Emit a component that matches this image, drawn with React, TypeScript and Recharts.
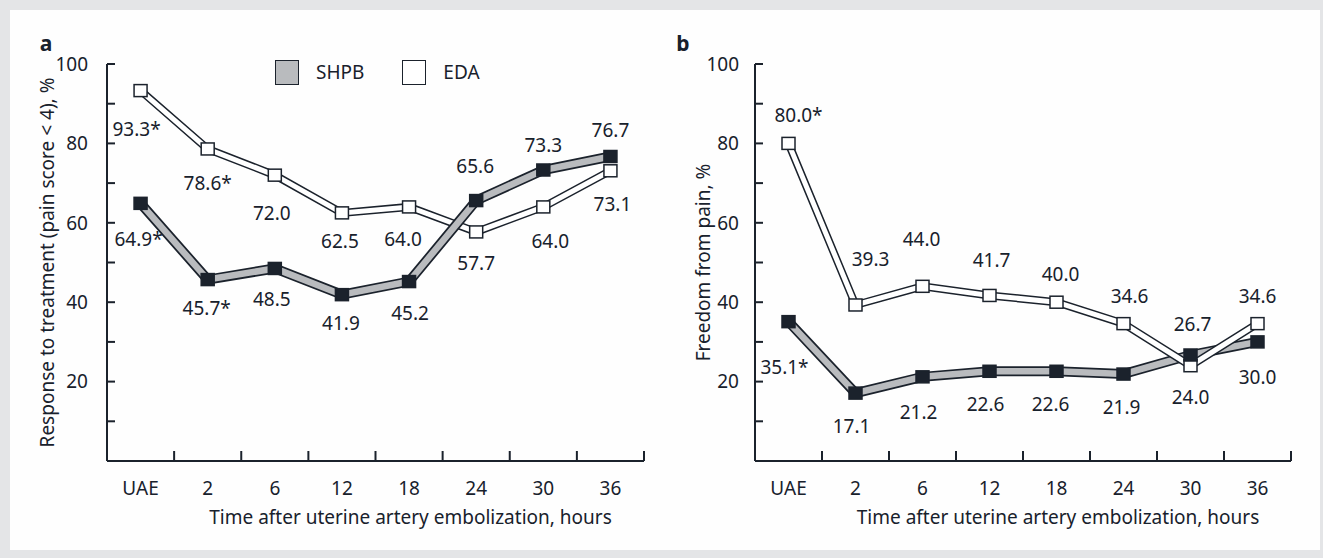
import React from 'react';
import { LineChart, Line, XAxis, YAxis, Legend, LabelList } from 'recharts';

// x categories: time after uterine artery embolization, hours
const categories = ['UAE', '2', '6', '12', '18', '24', '30', '36'];
const seriesOrder = ['SHPB', 'EDA'];

// panel a: response to treatment (pain score < 4), %
const responseShpb = [64.9, 45.7, 48.5, 41.9, 45.2, 65.6, 73.3, 76.7];
const responseEda = [93.3, 78.6, 72.0, 62.5, 64.0, 57.7, 64.0, 73.1];
const responseShpbSig = [true, true, false, false, false, false, false, false];
const responseEdaSig = [true, true, false, false, false, false, false, false];

// panel b: freedom from pain, %
const freedomShpb = [35.1, 17.1, 21.2, 22.6, 22.6, 21.9, 26.7, 30.0];
const freedomEda = [80.0, 39.3, 44.0, 41.7, 40.0, 34.6, 24.0, 34.6];
const freedomShpbSig = [true, false, false, false, false, false, false, false];
const freedomEdaSig = [true, false, false, false, false, false, false, false];

const yTicks = [10, 20, 30, 40, 50, 60, 70, 80, 90, 100];

// label placement (dx, dy from the point), kept apart from the values
const offResponseShpb = [[-2, 36], [-1, 28], [-3, 31], [-1, 28], [1, 31], [-1, -35], [0, -25], [0, -27]];
const offResponseEda = [[-4, 38], [0, 34], [-3, 38], [-2, 28], [-6, 32], [0, 31], [7, 34], [2, 33]];
const offFreedomShpb = [[-4, 45], [-4, 33], [-4, 35], [-4, 33], [-6, 33], [-2, 33], [2, -31], [0, 35]];
const offFreedomEda = [[10, -28], [15, -46], [-1, -47], [2, -35], [4, -28], [6, -28], [0, 31], [0, -28]];

const INK = '#1b222c';
const TEXT = '#18212c';
const GRAY = '#b9bbbe';
const FONT = '"Noto Sans", sans-serif';
const FS = 19;

const boundaryTicks = categories.map((_, i) => i + 1);
const centerTicks = categories.map((_, i) => i + 0.5);

const makeLabel = (sig: boolean[], off: number[][]) => (p: any) => {
  const i = p.index;
  return (
    <text key={i} x={p.x + off[i][0]} y={p.y + off[i][1]} textAnchor="middle" dominantBaseline="central"
      fill={TEXT} fontSize={FS} fontFamily={FONT}>
      {Number(p.value).toFixed(1)}{sig[i] ? '*' : ''}
    </text>
  );
};

const squareDot = (fill: string) => (p: any) => (
  <rect key={p.index} x={p.cx - 6.5} y={p.cy - 6} width={13} height={12} fill={fill} stroke={INK} strokeWidth={1.5} />
);

const LegendBox = (props: any) => {
  const items = (props.payload || [])
    .filter((e: any) => e.type !== 'none')
    .sort((a: any, b: any) => seriesOrder.indexOf(a.value) - seriesOrder.indexOf(b.value));
  return (
    <div style={{ display: 'flex', alignItems: 'center', fontFamily: FONT, fontSize: FS, color: TEXT }}>
      {items.map((e: any) => (
        <div key={e.value} style={{ display: 'flex', alignItems: 'center', marginRight: 38 }}>
          <span style={{ display: 'inline-block', width: 22, height: 23, background: e.color, border: `1.5px solid ${INK}`, marginRight: 17 }} />
          <span>{e.value}</span>
        </div>
      ))}
    </div>
  );
};

interface PanelProps {
  shpb: number[];
  eda: number[];
  shpbSig: boolean[];
  edaSig: boolean[];
  shpbOff: number[][];
  edaOff: number[][];
  yTitle: string;
  yTitleDx: number;
  tickMargin: number;
  width: number;
  left: number;
  right: number;
  edaOnTop: boolean;
  legend: boolean;
}

const Panel = ({ shpb, eda, shpbSig, edaSig, shpbOff, edaOff, yTitle, yTitleDx, tickMargin, width, left, right, edaOnTop, legend }: PanelProps) => {
  const data = categories.map((c, i) => ({ pos: i + 0.5, cat: c, shpb: shpb[i], eda: eda[i] }));

  const shpbTube = [
    <Line key="so" type="linear" dataKey="shpb" stroke={INK} strokeWidth={10} dot={false} activeDot={false} legendType="none" isAnimationActive={false} />,
    <Line key="si" type="linear" dataKey="shpb" name="SHPB" stroke={GRAY} strokeWidth={6.5} dot={false} activeDot={false} isAnimationActive={false} />,
  ];
  const edaTube = [
    <Line key="eo" type="linear" dataKey="eda" stroke={INK} strokeWidth={8} dot={false} activeDot={false} legendType="none" isAnimationActive={false} />,
    <Line key="ei" type="linear" dataKey="eda" name="EDA" stroke="#ffffff" strokeWidth={5} dot={false} activeDot={false} isAnimationActive={false} />,
  ];

  return (
    <LineChart width={width} height={558} data={data} margin={{ top: 64, right, left, bottom: 25 }}>
      <XAxis xAxisId={0} type="number" dataKey="pos" domain={[0, 8]} ticks={boundaryTicks} interval={0}
        height={2} tickSize={-10} tickFormatter={() => ''} stroke={INK} strokeWidth={2}
        axisLine={{ stroke: INK, strokeWidth: 2 }} tickLine={{ stroke: INK, strokeWidth: 2 }} />
      <XAxis xAxisId="lbl" type="number" dataKey="pos" domain={[0, 8]} ticks={centerTicks} interval={0}
        height={70} tickSize={0} tickMargin={19} axisLine={false} tickLine={false}
        tickFormatter={(v: number) => categories[Math.floor(v)]}
        tick={{ fill: TEXT, fontSize: FS, fontFamily: FONT }}
        label={{ value: 'Time after uterine artery embolization, hours', position: 'insideBottom', offset: 9, dx: 35, fill: TEXT, fontSize: FS, fontFamily: FONT }} />
      <YAxis type="number" domain={[0, 100]} ticks={yTicks} interval={0} width={80}
        tickSize={-8} tickMargin={tickMargin} tickFormatter={(v: number) => (v % 20 === 0 ? String(v) : '')}
        axisLine={{ stroke: INK, strokeWidth: 2 }} tickLine={{ stroke: INK, strokeWidth: 2 }}
        tick={{ fill: TEXT, fontSize: FS, fontFamily: FONT }}
        label={{ value: yTitle, angle: -90, position: 'center', dx: yTitleDx, fill: TEXT, fontSize: FS, fontFamily: FONT }} />
      {edaOnTop ? shpbTube : edaTube}
      {edaOnTop ? edaTube : shpbTube}
      <Line dataKey="eda" stroke="none" legendType="none" dot={squareDot('#ffffff')} activeDot={false} isAnimationActive={false}>
        <LabelList dataKey="eda" content={makeLabel(edaSig, edaOff)} />
      </Line>
      <Line dataKey="shpb" stroke="none" legendType="none" dot={squareDot(INK)} activeDot={false} isAnimationActive={false}>
        <LabelList dataKey="shpb" content={makeLabel(shpbSig, shpbOff)} />
      </Line>
      {legend && (
        <Legend layout="horizontal" verticalAlign="middle" align="center" content={<LegendBox />}
          wrapperStyle={{ left: 275, top: 59, width: 260 }} />
      )}
    </LineChart>
  );
};

export default function App() {
  return (
    <div style={{ position: 'relative', width: 1323, height: 558, background: '#e4e5e7', fontFamily: FONT, overflow: 'hidden' }}>
      <style>{'body{margin:0}'}</style>
      <div style={{ position: 'absolute', left: 10, top: 10, width: 1310, height: 540, background: '#fefefe' }} />
      <svg width={1323} height={558} style={{ position: 'absolute', left: 0, top: 0 }}>
        <text x={46} y={51} textAnchor="middle" fontWeight={700} fontSize={21} fill={TEXT} fontFamily={FONT}>a</text>
        <text x={683} y={51} textAnchor="middle" fontWeight={700} fontSize={21} fill={TEXT} fontFamily={FONT}>b</text>
      </svg>
      <div style={{ position: 'absolute', left: 0, top: 0 }}>
        <Panel shpb={responseShpb} eda={responseEda} shpbSig={responseShpbSig} edaSig={responseEdaSig}
          shpbOff={offResponseShpb} edaOff={offResponseEda}
          yTitle="Response to treatment (pain score < 4), %" yTitleDx={-20} tickMargin={27}
          width={660} left={27} right={16} edaOnTop={false} legend={true} />
      </div>
      <div style={{ position: 'absolute', left: 660, top: 0 }}>
        <Panel shpb={freedomShpb} eda={freedomEda} shpbSig={freedomShpbSig} edaSig={freedomEdaSig}
          shpbOff={offFreedomShpb} edaOff={offFreedomEda}
          yTitle="Freedom from pain, %" yTitleDx={-12} tickMargin={24}
          width={663} left={15} right={32} edaOnTop={true} legend={false} />
      </div>
    </div>
  );
}
